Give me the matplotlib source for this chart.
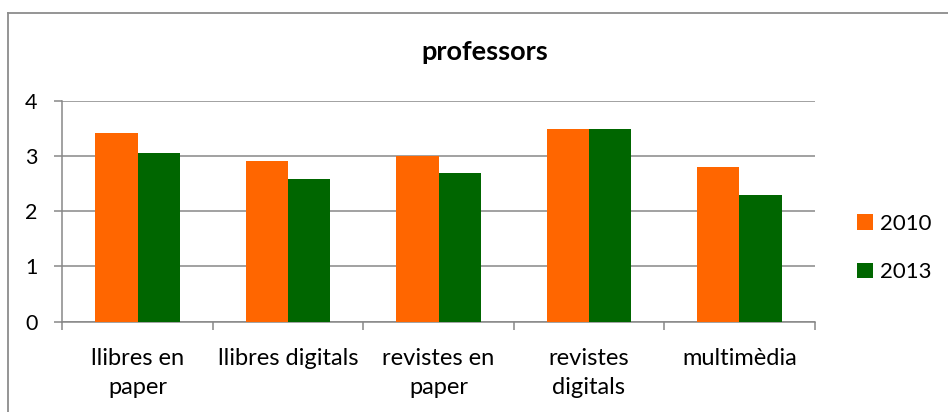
import matplotlib
matplotlib.use("Agg")
import matplotlib.pyplot as plt
import numpy as np
from matplotlib.lines import Line2D
from matplotlib.ticker import FixedLocator

categories = ["llibres en\npaper", "llibres digitals", "revistes en\npaper", "revistes\ndigitals", "multimèdia"]
series_names = ["2010", "2013"]
values_2010 = [3.41, 2.91, 3.00, 3.48, 2.80]
values_2013 = [3.05, 2.58, 2.70, 3.48, 2.30]
y_ticks = [0, 1, 2, 3, 4]

orange = "#FF6600"
green = "#006600"
grid_col = "#878787"

plt.rcParams['font.family'] = ['Lato', 'DejaVu Sans']

W, H = 948, 412
fig = plt.figure(figsize=(W / 100, H / 100), dpi=100)
ax = fig.add_axes([62.3 / W, 1 - 321.7 / H, (814.7 - 62.3) / W, (321.7 - 100.7) / H])

x = np.arange(len(categories))
w = 0.282
ax.bar(x - w / 2, values_2010, width=w, color=orange, label=series_names[0], zorder=3)
ax.bar(x + w / 2, values_2013, width=w, color=green, label=series_names[1], zorder=3)

ax.set_xlim(-0.5, len(categories) - 0.5)
ax.set_ylim(0, 4)
ax.set_yticks(y_ticks)
ax.yaxis.grid(True, color=grid_col, linewidth=1.1, zorder=0)
ax.set_axisbelow(True)

for s in ["top", "right"]:
    ax.spines[s].set_visible(False)
for s in ["left", "bottom"]:
    ax.spines[s].set_color(grid_col)
    ax.spines[s].set_linewidth(1.1)

ax.set_xticks(x)
ax.set_xticklabels(categories, fontsize=17, linespacing=1.49)
ax.tick_params(axis="x", which="major", length=0, pad=19)
ax.xaxis.set_minor_locator(FixedLocator(np.arange(-0.5, len(categories), 1.0)))
ax.tick_params(axis="x", which="minor", length=6, width=1.1, color=grid_col)
ax.tick_params(axis="y", length=6, width=1.1, color=grid_col, labelsize=15.5, pad=12)

fig.text(485 / W, 1 - 52 / H, "professors", ha="center", va="center",
         fontsize=19.5, fontweight="bold")

fs_leg = 16
leg = fig.legend(loc="upper left", bbox_to_anchor=(857 / W, 1 - 214 / H), frameon=False,
                 fontsize=fs_leg, handlelength=0.72, handleheight=0.72,
                 handletextpad=0.32, labelspacing=1.27, borderpad=0, borderaxespad=0)

# chart-area border
fig.add_artist(Line2D([8 / W, 8 / W], [0, 1 - 13 / H], color="#8c8c8c", linewidth=1.3,
                      transform=fig.transFigure))
fig.add_artist(Line2D([8 / W, 1], [1 - 13 / H, 1 - 13 / H], color="#8c8c8c", linewidth=1.3,
                      transform=fig.transFigure))

fig.savefig("out.png", dpi=100, facecolor="white")
